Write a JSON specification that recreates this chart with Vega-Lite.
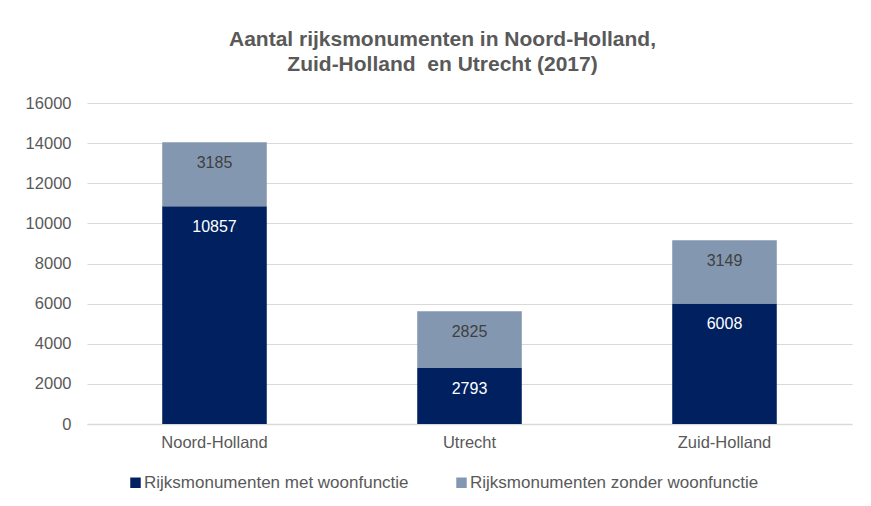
{
  "$schema": "https://vega.github.io/schema/vega-lite/v6.json",
  "width": 765,
  "height": 321,
  "autosize": {"type": "none"},
  "padding": {"left": 87, "top": 103, "right": 19, "bottom": 82},
  "background": "white",
  "config": {
    "font": "Liberation Sans",
    "view": {"stroke": null}
  },
  "title": {
    "text": ["Aantal rijksmonumenten in Noord-Holland,", "Zuid-Holland\u00a0 en Utrecht (2017)"],
    "fontSize": 21,
    "fontWeight": "bold",
    "color": "#595959",
    "font": "Liberation Sans",
    "lineHeight": 25,
    "anchor": "middle",
    "dx": -27,
    "offset": 20
  },
  "data": {
    "values": [
      {"provincie": "Noord-Holland", "type": "Rijksmonumenten met woonfunctie", "aantal": 10857},
      {"provincie": "Noord-Holland", "type": "Rijksmonumenten zonder woonfunctie", "aantal": 3185},
      {"provincie": "Utrecht", "type": "Rijksmonumenten met woonfunctie", "aantal": 2793},
      {"provincie": "Utrecht", "type": "Rijksmonumenten zonder woonfunctie", "aantal": 2825},
      {"provincie": "Zuid-Holland", "type": "Rijksmonumenten met woonfunctie", "aantal": 6008},
      {"provincie": "Zuid-Holland", "type": "Rijksmonumenten zonder woonfunctie", "aantal": 3149}
    ]
  },
  "transform": [
    {"stack": "aantal", "groupby": ["provincie"], "sort": [{"field": "type", "order": "ascending"}], "as": ["y0", "y1"]}
  ],
  "encoding": {
    "x": {
      "field": "provincie",
      "type": "nominal",
      "sort": ["Noord-Holland", "Utrecht", "Zuid-Holland"],
      "scale": {"paddingInner": 0.59, "paddingOuter": 0.295},
      "axis": {
        "title": null,
        "labelAngle": 0,
        "labelFontSize": 16.5,
        "labelColor": "#595959",
        "labelPadding": 10,
        "ticks": false,
        "domainColor": "#d9d9d9",
        "domainWidth": 1.5
      }
    }
  },
  "layer": [
    {
      "mark": {"type": "bar"},
      "encoding": {
        "y": {
          "field": "y1",
          "type": "quantitative",
          "scale": {"domain": [0, 16000], "nice": false},
          "axis": {
            "title": null,
            "values": [0, 2000, 4000, 6000, 8000, 10000, 12000, 14000, 16000],
            "format": "d",
            "labelFontSize": 16.5,
            "labelColor": "#595959",
            "labelPadding": 16,
            "ticks": false,
            "domain": false,
            "gridColor": "#d9d9d9",
            "gridWidth": 1.2
          }
        },
        "y2": {"field": "y0"},
        "color": {
          "field": "type",
          "type": "nominal",
          "scale": {
            "domain": ["Rijksmonumenten met woonfunctie", "Rijksmonumenten zonder woonfunctie"],
            "range": ["#002060", "#8497B0"]
          },
          "legend": {
            "title": null,
            "orient": "none",
            "direction": "horizontal",
            "legendX": 40,
            "legendY": 371,
            "symbolType": "square",
            "symbolSize": 110,
            "symbolStrokeWidth": 0,
            "labelFontSize": 17,
            "labelLimit": 400,
            "labelColor": "#595959",
            "labelOffset": 0,
            "columnPadding": 44
          }
        }
      }
    },
    {
      "mark": {"type": "text", "baseline": "middle", "dy": 21, "fontSize": 16},
      "encoding": {
        "y": {"field": "y1", "type": "quantitative"},
        "text": {"field": "aantal", "type": "quantitative", "format": "d"},
        "fill": {
          "condition": {"test": "datum.type === 'Rijksmonumenten met woonfunctie'", "value": "#ffffff"},
          "value": "#404040"
        }
      }
    }
  ]
}
